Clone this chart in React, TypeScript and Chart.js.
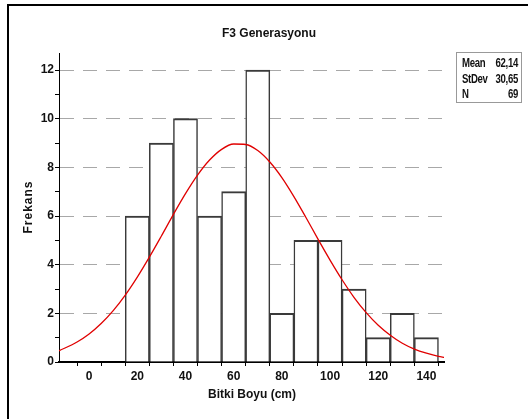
import React, { useEffect, useRef } from 'react';
import { Chart, registerables } from 'chart.js';

Chart.register(...registerables);

// Histogram bins (bin centres, width 10) and frequencies
const binCenters = [20, 30, 40, 50, 60, 70, 80, 90, 100, 110, 120, 130, 140];
const counts = [6, 9, 10, 6, 7, 12, 2, 5, 5, 3, 1, 2, 1];

// Fitted normal curve
const curveX = [-12.5, -5, 0, 5, 10, 15, 20, 25, 30, 35, 40, 45, 50, 55, 60, 65, 70, 75, 80, 85, 90, 95, 100, 105, 110, 115, 120, 125, 130, 135, 140, 145, 147.5];
const curveY = [0.46, 0.82, 1.15, 1.58, 2.11, 2.75, 3.49, 4.31, 5.18, 6.07, 6.92, 7.68, 8.3, 8.74, 8.96, 8.94, 8.69, 8.22, 7.58, 6.8, 5.94, 5.05, 4.19, 3.38, 2.65, 2.03, 1.51, 1.1, 0.77, 0.53, 0.36, 0.23, 0.19];

const xTickLabels = [0, 20, 40, 60, 80, 100, 120, 140];
const yTickLabels = [0, 2, 4, 6, 8, 10, 12];

const titleText = 'F3 Generasyonu';
const xTitle = 'Bitki Boyu (cm)';
const yTitle = 'Frekans';

const statLabels = ['Mean', 'StDev', 'N'];
const statValues = ['62,14', '30,65', '69'];

const FONT = '"Liberation Sans", Arial, sans-serif';

export default function App() {
  const ref = useRef<HTMLCanvasElement | null>(null);

  useEffect(() => {
    if (!ref.current) return;
    const chart = new Chart(ref.current, {
      type: 'bar',
      data: {
        datasets: [
          {
            type: 'line',
            data: curveX.map((x, i) => ({ x, y: curveY[i] })),
            borderColor: '#e00000',
            borderWidth: 1.3,
            pointRadius: 0,
            fill: false,
            cubicInterpolationMode: 'monotone',
            order: 1,
          } as any,
          {
            type: 'bar',
            data: binCenters.map((x, i) => ({ x, y: counts[i] })),
            backgroundColor: '#ffffff',
            borderColor: '#3a3a3a',
            borderWidth: { top: 2, left: 1.5, right: 1.5, bottom: 0 },
            barPercentage: 1,
            categoryPercentage: 1,
            order: 2,
          } as any,
        ],
      },
      options: {
        animation: false,
        responsive: false,
        devicePixelRatio: 1,
        layout: { padding: { left: 0, top: 53, right: 84, bottom: 0 } },
        plugins: { legend: { display: false }, tooltip: { enabled: false }, title: { display: false } },
        scales: {
          x: {
            type: 'linear',
            min: -12.5,
            max: 147.3,
            offset: false,
            afterFit: (s: any) => { s.height = 57; },
            afterBuildTicks: (s: any) => { s.ticks = s.ticks.filter((t: any) => Math.abs(t.value % 10) < 1e-9); },
            ticks: {
              stepSize: 10,
              includeBounds: false,
              autoSkip: false,
              maxRotation: 0,
              padding: 3,
              color: '#111',
              font: { family: FONT, size: 12, weight: 'bold' },
              callback: (v: any) => (xTickLabels.includes(Number(v)) ? String(v) : ''),
            },
            grid: { drawOnChartArea: false, drawTicks: true, tickLength: 4, color: '#000', tickColor: '#000' },
            border: { display: true, color: '#000', width: 2 },
          },
          y: {
            type: 'linear',
            min: 0,
            max: 12.7,
            afterFit: (s: any) => { s.width = 59; },
            afterBuildTicks: (s: any) => { s.ticks = s.ticks.filter((t: any) => Math.abs(t.value % 1) < 1e-9); },
            ticks: {
              stepSize: 1,
              includeBounds: false,
              autoSkip: false,
              padding: 1,
              color: '#111',
              font: { family: FONT, size: 12, weight: 'bold' },
              callback: (v: any) => (yTickLabels.includes(Number(v)) ? String(v) : ''),
            },
            grid: {
              drawTicks: true,
              tickLength: 4,
              tickColor: '#000',
              lineWidth: 1,
              color: (ctx: any) => (ctx.tick && ctx.tick.value > 0 && ctx.tick.value % 2 === 0 ? '#a8a8a8' : 'rgba(0,0,0,0)'),
            },
            border: { display: true, color: '#000', width: 1, dash: [14, 9] },
          },
        },
      } as any,
    });
    return () => chart.destroy();
  }, []);

  const textBase: React.CSSProperties = {
    position: 'absolute',
    fontFamily: FONT,
    fontWeight: 'bold',
    fontSize: 12,
    color: '#111',
    whiteSpace: 'nowrap',
    lineHeight: 1,
  };

  return (
    <div style={{ position: 'absolute', left: 0, top: 0, width: 528, height: 419, overflow: 'hidden', background: '#fff' }}>
      <canvas ref={ref} width={528} height={419} style={{ position: 'absolute', left: 0, top: 0 }} />
      <div style={{ position: 'absolute', left: 7, top: 4, width: 700, height: 700, borderLeft: '2px solid #000', borderTop: '2px solid #000' }} />
      <div style={{ ...textBase, left: 269, top: 33, transform: 'translate(-50%, -50%)' }}>{titleText}</div>
      <div style={{ ...textBase, left: 252, top: 394, transform: 'translate(-50%, -50%)' }}>{xTitle}</div>
      <div style={{ ...textBase, left: 28, top: 207, letterSpacing: 1, transform: 'translate(-50%, -50%) rotate(-90deg)' }}>{yTitle}</div>
      <div
        style={{
          position: 'absolute',
          left: 456,
          top: 52,
          width: 66,
          height: 51,
          border: '1px solid #999',
          background: '#fff',
          boxSizing: 'border-box',
          overflow: 'hidden',
        }}
      >
        <div style={{ position: 'absolute', left: 5, top: 3, width: 70, transform: 'scaleX(0.8)', transformOrigin: 'left top' }}>
          {statLabels.map((l, i) => (
            <div
              key={l}
              style={{
                display: 'flex',
                justifyContent: 'space-between',
                fontFamily: FONT,
                fontWeight: 'bold',
                fontSize: 12,
                letterSpacing: -0.4,
                lineHeight: '15.5px',
                color: '#111',
              }}
            >
              <span>{l}</span>
              <span>{statValues[i]}</span>
            </div>
          ))}
        </div>
      </div>
    </div>
  );
}
